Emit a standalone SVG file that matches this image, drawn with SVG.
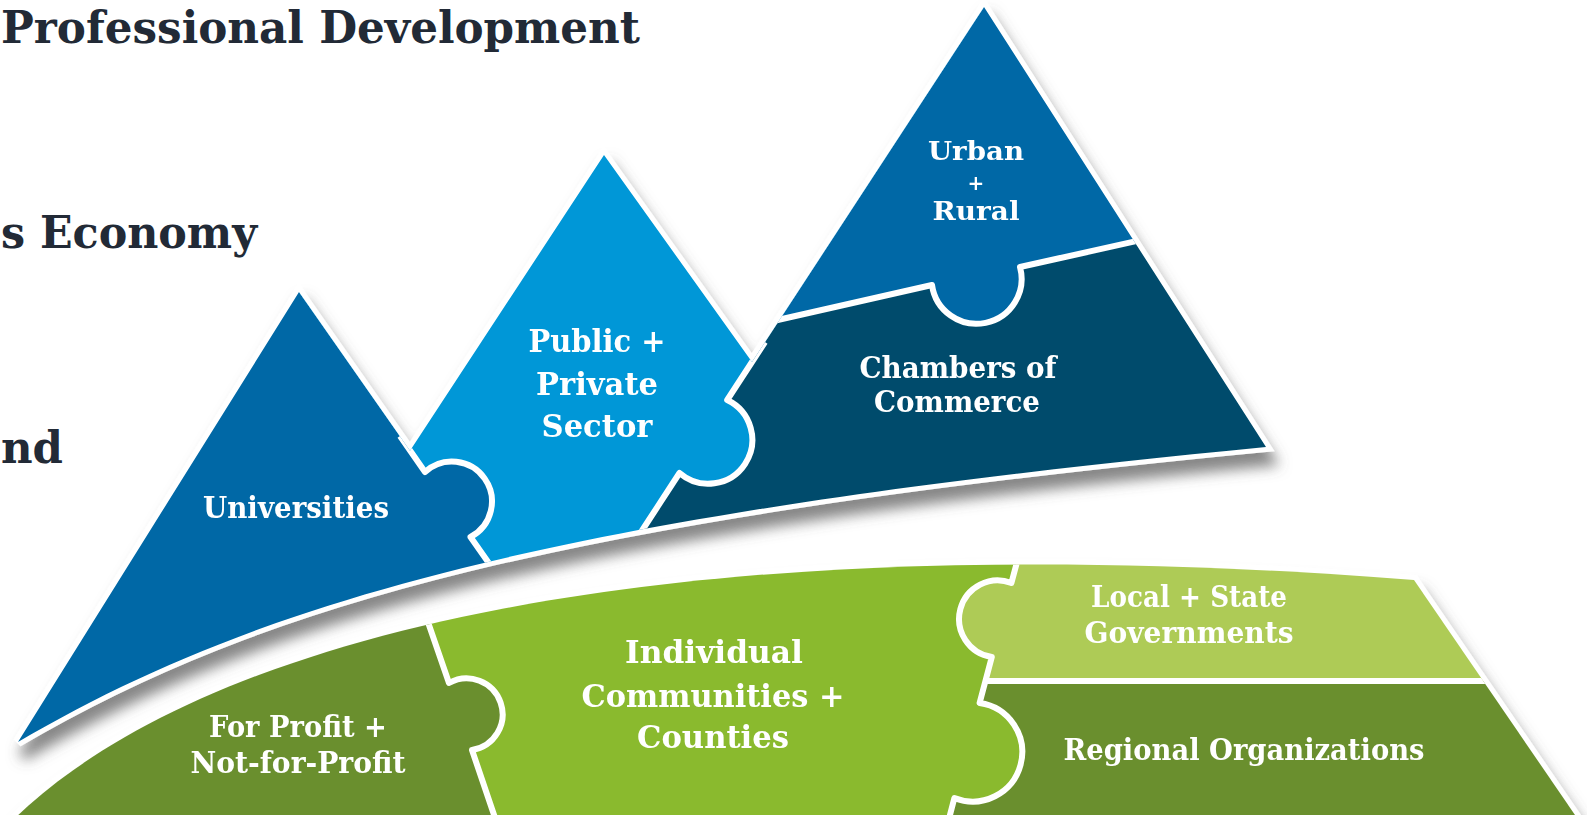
<svg xmlns="http://www.w3.org/2000/svg" width="1587" height="815" viewBox="0 0 1587 815">
<defs>
<style>
.hdr{font-family:"DejaVu Serif","Liberation Serif",serif;font-weight:bold;fill:#222a36;font-size:44px}
.lbl{font-family:"DejaVu Serif","Liberation Serif",serif;font-weight:bold;fill:#ffffff;font-size:29px;text-anchor:middle}
.big{font-size:32px}
.sm{font-size:26px}
.div{fill:none;stroke:#ffffff;stroke-width:6;stroke-linejoin:round}
.edge{fill:#ffffff;stroke:#ffffff;stroke-width:10;stroke-linejoin:miter}
.c-blue{fill:#0067a6}
.c-sky{fill:#0097d7}
.c-teal{fill:#034c6c}
.c-olive{fill:#6b8f2f}
.c-lime{fill:#8aba2d}
.c-light{fill:#aecb57}
</style>
<filter id="sh" x="-10%" y="-10%" width="130%" height="140%">
<feDropShadow dx="5" dy="14" stdDeviation="7" flood-color="#555555" flood-opacity="0.7"/>
</filter>
<path id="upperOutline" d="M 18,742 C 260,600 560,515 1266,447 L 984,7 L 752,362 L 604,155 L 410,450.7 L 299,292 Z"/>
<clipPath id="clipU"><use href="#upperOutline"/></clipPath>
<path id="lowerOutline" d="M 15,818 C 200,640 650,520 1414,580 L 1599,850 L 15,850 Z"/>
<clipPath id="clipL"><use href="#lowerOutline"/></clipPath>
</defs>

<g id="headings">
<text class="hdr" x="1" y="43" textLength="639" lengthAdjust="spacingAndGlyphs">Professional Development</text>
<text class="hdr" x="1" y="248" textLength="256" lengthAdjust="spacingAndGlyphs">s Economy</text>
<text class="hdr" x="1" y="463" textLength="62" lengthAdjust="spacingAndGlyphs">nd</text>
</g>

<g id="upper-range" filter="url(#sh)">
<use href="#upperOutline" class="edge"/>
<g id="universities">
<path class="c-blue" clip-path="url(#clipU)" d="M 94.6,0 L 425,472 A 40 40 0 1 1 470.5,537 L 549.6,650 L 549.6,900 L -100,900 L -100,0 Z"/>
<text class="lbl" x="296" y="518" textLength="186" lengthAdjust="spacingAndGlyphs">Universities</text>
</g>
<g id="public-private">
<path class="c-sky" clip-path="url(#clipU)" d="M 94.6,0 L 425,472 A 40 40 0 1 1 470.5,537 L 549.6,650 L 563.8,650 L 679.5,473 A 44 44 0 1 0 727.2,400 L 988.6,0 Z"/>
<text class="lbl big" x="597" y="352"><tspan x="597" textLength="137" lengthAdjust="spacingAndGlyphs">Public +</tspan><tspan x="597" dy="43" textLength="122" lengthAdjust="spacingAndGlyphs">Private</tspan><tspan x="597" dy="42" textLength="111" lengthAdjust="spacingAndGlyphs">Sector</tspan></text>
</g>
<g id="chambers">
<path class="c-teal" clip-path="url(#clipU)" d="M 779.5,320 L 932,285 A 45 45 0 1 0 1020,267 L 1400,183.5 L 1400,700 L 531.1,700 L 679.5,473 A 44 44 0 1 0 727.2,400 Z"/>
<text class="lbl" x="958" y="378"><tspan x="958" textLength="197" lengthAdjust="spacingAndGlyphs">Chambers of</tspan><tspan x="957" dy="34" textLength="166" lengthAdjust="spacingAndGlyphs">Commerce</tspan></text>
</g>
<g id="urban-rural">
<path class="c-blue" clip-path="url(#clipU)" d="M 779.5,320 L 932,285 A 45 45 0 1 0 1020,267 L 1400,183.5 L 1400,0 L 988.6,0 Z"/>
<text class="lbl sm" x="976" y="160"><tspan x="976" textLength="96" lengthAdjust="spacingAndGlyphs">Urban</tspan><tspan x="976" dy="30" style="font-size:20px">+</tspan><tspan x="976" dy="30" textLength="87" lengthAdjust="spacingAndGlyphs">Rural</tspan></text>
</g>
<g id="upper-dividers" clip-path="url(#clipU)">
<path class="div" d="M 400,436 L 425,472 A 40 40 0 1 1 470.5,537 L 500,579"/>
<path class="div" d="M 765,342 L 727.2,400 A 44 44 0 1 1 679.5,473 L 630,549"/>
<path class="div" d="M 760,324 L 932,285 A 45 45 0 1 0 1020,267 L 1150,238"/>
</g>
</g>

<g id="lower-range" filter="url(#sh)">
<use href="#lowerOutline" class="edge"/>
<g id="for-profit">
<path class="c-olive" clip-path="url(#clipL)" d="M 386.3,500 L 449,683 A 36 36 0 1 1 472,750 L 500.5,834 L -100,834 L -100,500 Z"/>
<text class="lbl" x="298" y="737"><tspan x="298" textLength="178" lengthAdjust="spacingAndGlyphs">For Profit +</tspan><tspan x="298" dy="36" textLength="215" lengthAdjust="spacingAndGlyphs">Not-for-Profit</tspan></text>
</g>
<g id="individual-communities">
<path class="c-lime" clip-path="url(#clipL)" d="M 386.3,500 L 449,683 A 36 36 0 1 1 472,750 L 500.5,834 L 945,834 L 954.4,798 A 49.5 49.5 0 1 0 979.6,703 L 985.4,681 L 991.8,657 A 38.5 38.5 0 1 1 1011.4,583 L 1033.4,500 Z"/>
<text class="lbl big" x="714" y="663"><tspan x="714" textLength="178" lengthAdjust="spacingAndGlyphs">Individual</tspan><tspan x="713" dy="44" textLength="263" lengthAdjust="spacingAndGlyphs">Communities +</tspan><tspan x="713" dy="41" textLength="152" lengthAdjust="spacingAndGlyphs">Counties</tspan></text>
</g>
<g id="local-state">
<path class="c-light" clip-path="url(#clipL)" d="M 1033.4,500 L 1011.4,583 A 38.5 38.5 0 1 0 991.8,657 L 985.4,681 L 1700,681 L 1700,500 Z"/>
<text class="lbl" x="1189" y="607"><tspan x="1189" textLength="196" lengthAdjust="spacingAndGlyphs">Local + State</tspan><tspan x="1189" dy="36" textLength="209" lengthAdjust="spacingAndGlyphs">Governments</tspan></text>
</g>
<g id="regional">
<path class="c-olive" clip-path="url(#clipL)" d="M 985.4,681 L 979.6,703 A 49.5 49.5 0 1 1 954.4,798 L 945,834 L 1700,834 L 1700,681 Z"/>
<text class="lbl" x="1244" y="760" textLength="361" lengthAdjust="spacingAndGlyphs">Regional Organizations</text>
</g>
<g id="lower-dividers" clip-path="url(#clipL)">
<path class="div" d="M 410,570 L 449,683 A 36 36 0 1 1 472,750 L 500.5,834"/>
<path class="div" d="M 1035,495 L 1011.4,583 A 38.5 38.5 0 1 0 991.8,657 L 979.6,703 A 49.5 49.5 0 1 1 954.4,798 L 945,834"/>
<path class="div" d="M 985.4,681 L 1620,681"/>
</g>
</g>
</svg>
